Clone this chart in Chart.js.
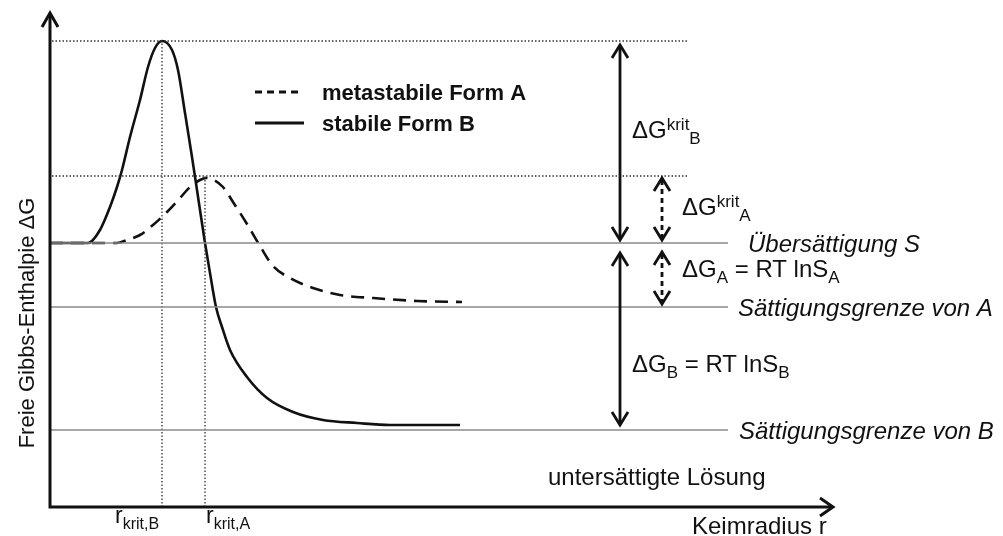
<!DOCTYPE html>
<html>
<head>
<meta charset="utf-8">
<script src="https://cdn.jsdelivr.net/npm/chart.js@4.4.1/dist/chart.umd.min.js"></script>
<style>
  html, body { margin: 0; padding: 0; background: #fff; }
  canvas { display: block; }
</style>
</head>
<body>
<canvas id="chart" width="1003" height="536"></canvas>
<script>
// Keimradius r (x) against freie Enthalpie (y), both in arbitrary units
const radiusB = [0, 3.8, 5, 6, 6.7, 7.2, 8, 9, 9.8, 10.5, 11.2, 12.2, 12.8, 13.5, 14.2, 14.7, 15.5, 16, 16.6, 17.2, 18, 19.7, 21.7, 24.3, 27.3, 30.7, 34, 41];
const energyB = [26.4, 26.4, 27.7, 30.0, 32.0, 33.7, 37.0, 40.7, 44.0, 45.9, 46.6, 45.7, 43.7, 39.4, 35.0, 31.7, 26.4, 23.4, 20.0, 18.0, 15.7, 13.0, 10.9, 9.5, 8.7, 8.4, 8.2, 8.2];
const radiusA = [0, 6.7, 7.7, 9, 10.3, 11.7, 13, 14, 15, 15.6, 16.4, 17.3, 18.3, 19.7, 21, 22.3, 24, 26.3, 29, 32.3, 36.7, 41.2];
const energyA = [26.4, 26.4, 26.7, 27.2, 28.2, 29.5, 30.9, 32.0, 32.7, 32.9, 32.7, 32.0, 30.5, 28.3, 26.1, 24.1, 22.9, 21.9, 21.2, 20.9, 20.6, 20.5];

const seriesLabels = ['metastabile Form A', 'stabile Form B'];

// horizontal levels: Übersättigung, Sättigungsgrenze A, Sättigungsgrenze B
const levelLabels = ['Übersättigung S', 'Sättigungsgrenze von A', 'Sättigungsgrenze von B'];
const levelValues = [26.4, 20.0, 7.7];

// critical radius and barrier height, B first then A
const critRadius = [11.2, 15.5];
const critBarrier = [46.6, 33.1];

const X_MAX = 78.3, Y_MAX = 49.4;
const LEVEL_END = 67.8, GUIDE_END = 63.7;
const FONT = '"Liberation Sans", Arial, sans-serif';
const INK = '#111';

const toPts = (xs, ys) => xs.map((x, i) => ({ x: x, y: ys[i] }));

const datasets = [];
levelValues.forEach((v, i) => {
  datasets.push({
    label: levelLabels[i],
    data: [{ x: 0, y: v }, { x: LEVEL_END, y: v }],
    borderColor: '#8a8a8a', borderWidth: 1.6, pointRadius: 0, clip: false
  });
});
critBarrier.forEach((b, i) => {
  const guide = { borderColor: '#333', borderWidth: 1.3, borderDash: [1.5, 2], pointRadius: 0, clip: false };
  datasets.push(Object.assign({ data: [{ x: 0.2, y: b }, { x: GUIDE_END, y: b }] }, guide));
  datasets.push(Object.assign({ data: [{ x: critRadius[i], y: 0 }, { x: critRadius[i], y: b }] }, guide));
});
datasets.push({
  label: seriesLabels[0],
  data: toPts(radiusA, energyA),
  borderColor: INK, borderWidth: 2.6, borderDash: [13, 8],
  cubicInterpolationMode: 'monotone', pointRadius: 0, clip: false
});
datasets.push({
  label: seriesLabels[1],
  data: toPts(radiusB, energyB),
  borderColor: INK, borderWidth: 2.6,
  cubicInterpolationMode: 'monotone', pointRadius: 0, clip: false
});

function arrowHead(ctx, tx, ty, ux, uy, len, half) {
  const bx = tx - ux * len, by = ty - uy * len;
  ctx.beginPath();
  ctx.moveTo(bx - uy * half, by + ux * half);
  ctx.lineTo(tx, ty);
  ctx.lineTo(bx + uy * half, by - ux * half);
  ctx.stroke();
}

// vertical double arrow between two y values
function doubleArrow(ctx, x, y1, y2, dashed) {
  ctx.save();
  ctx.strokeStyle = INK;
  ctx.lineWidth = 2.8;
  ctx.lineCap = 'butt';
  if (dashed) ctx.setLineDash([5, 4]);
  ctx.beginPath();
  ctx.moveTo(x, y1 + 2);
  ctx.lineTo(x, y2 - 2);
  ctx.stroke();
  ctx.setLineDash([]);
  ctx.lineJoin = 'miter';
  arrowHead(ctx, x, y1, 0, -1, 13, 8);
  arrowHead(ctx, x, y2, 0, 1, 13, 8);
  ctx.restore();
}

// text with sub- and superscripts; parts are strings or [text, 'sup'|'sub']
function richText(ctx, x, y, parts, size, style) {
  let cx = x;
  parts.forEach(p => {
    const txt = typeof p === 'string' ? p : p[0];
    const kind = typeof p === 'string' ? '' : p[1];
    const s = kind ? Math.round(size * 0.7) : size;
    const dy = kind === 'sup' ? -size * 0.34 : kind === 'sub' ? size * 0.26 : 0;
    ctx.font = (style || '') + ' ' + s + 'px ' + FONT;
    ctx.fillText(txt, cx, y + dy);
    cx += ctx.measureText(txt).width;
  });
}

const diagramPlugin = {
  id: 'diagram',
  afterDatasetsDraw(chart) {
    const ctx = chart.ctx;
    const sx = chart.scales.x, sy = chart.scales.y;
    const px = v => sx.getPixelForValue(v);
    const py = v => sy.getPixelForValue(v);
    const x0 = px(0), y0 = py(0), xEnd = px(X_MAX), yTop = py(Y_MAX);

    // axes with open arrow heads
    ctx.save();
    ctx.strokeStyle = INK;
    ctx.lineWidth = 3;
    ctx.beginPath();
    ctx.moveTo(x0, y0);
    ctx.lineTo(x0, yTop + 2);
    ctx.moveTo(x0 - 1.5, y0);
    ctx.lineTo(xEnd - 2, y0);
    ctx.stroke();
    arrowHead(ctx, x0, yTop, 0, -1, 14, 8);
    arrowHead(ctx, xEnd, y0, 1, 0, 13, 9);
    ctx.restore();

    // energy differences
    const xB = px(57.0), xA = px(61.2);
    doubleArrow(ctx, xB, py(critBarrier[0]) + 4, py(levelValues[0]) - 3, false);
    doubleArrow(ctx, xB, py(levelValues[0]) + 10, py(levelValues[2]) - 5, false);
    doubleArrow(ctx, xA, py(critBarrier[1]) + 2, py(levelValues[0]) - 3, true);
    doubleArrow(ctx, xA, py(levelValues[0]) + 9, py(levelValues[1]) - 3, true);

    ctx.save();
    ctx.fillStyle = INK;
    ctx.textBaseline = 'alphabetic';
    ctx.textAlign = 'left';
    richText(ctx, xB + 12, 138, ['ΔG', ['krit', 'sup'], ['B', 'sub']], 24);
    richText(ctx, xA + 20, 215, ['ΔG', ['krit', 'sup'], ['A', 'sub']], 24);
    richText(ctx, xA + 20, 277, ['ΔG', ['A', 'sub'], ' = RT lnS', ['A', 'sub']], 24);
    richText(ctx, xB + 12, 372, ['ΔG', ['B', 'sub'], ' = RT lnS', ['B', 'sub']], 24);

    // level names at the right
    const levelX = [748, 738, 739];
    levelValues.forEach((v, i) => {
      richText(ctx, levelX[i], py(v) + 9, [levelLabels[i]], 24, 'italic');
    });
    richText(ctx, 548, 485, ['untersättigte Lösung'], 24);
    richText(ctx, 692, 534, ['Keimradius r'], 24);

    // critical radii under the x axis
    richText(ctx, px(critRadius[0]) - 47, 523, ['r', ['krit,B', 'sub']], 23);
    richText(ctx, px(critRadius[1]) + 1, 523, ['r', ['krit,A', 'sub']], 23);

    // y axis title
    ctx.save();
    ctx.translate(28, 323);
    ctx.rotate(-Math.PI / 2);
    ctx.textAlign = 'center';
    ctx.textBaseline = 'middle';
    ctx.font = '22px ' + FONT;
    ctx.fillText('Freie Gibbs-Enthalpie ΔG', 0, 0);
    ctx.restore();

    // legend for the two curves
    const rows = [92, 123];
    seriesLabels.forEach((name, i) => {
      const ds = chart.data.datasets.find(d => d.label === name);
      ctx.save();
      ctx.strokeStyle = ds.borderColor;
      ctx.lineWidth = 2.8;
      ctx.setLineDash(ds.borderDash ? [7, 5] : []);
      ctx.beginPath();
      ctx.moveTo(255, rows[i]);
      ctx.lineTo(ds.borderDash ? 300 : 304, rows[i]);
      ctx.stroke();
      ctx.restore();
      richText(ctx, 322, rows[i] + 8, [name], 22, 'bold');
    });
    ctx.restore();
  }
};

new Chart(document.getElementById('chart'), {
  type: 'line',
  data: { datasets: datasets },
  options: {
    responsive: false,
    animation: false,
    layout: { padding: { left: 50, right: 170, top: 13, bottom: 29 } },
    plugins: { legend: { display: false }, tooltip: { enabled: false } },
    scales: {
      x: { type: 'linear', min: 0, max: X_MAX, display: false },
      y: { type: 'linear', min: 0, max: Y_MAX, display: false }
    }
  },
  plugins: [diagramPlugin]
});
</script>
</body>
</html>
